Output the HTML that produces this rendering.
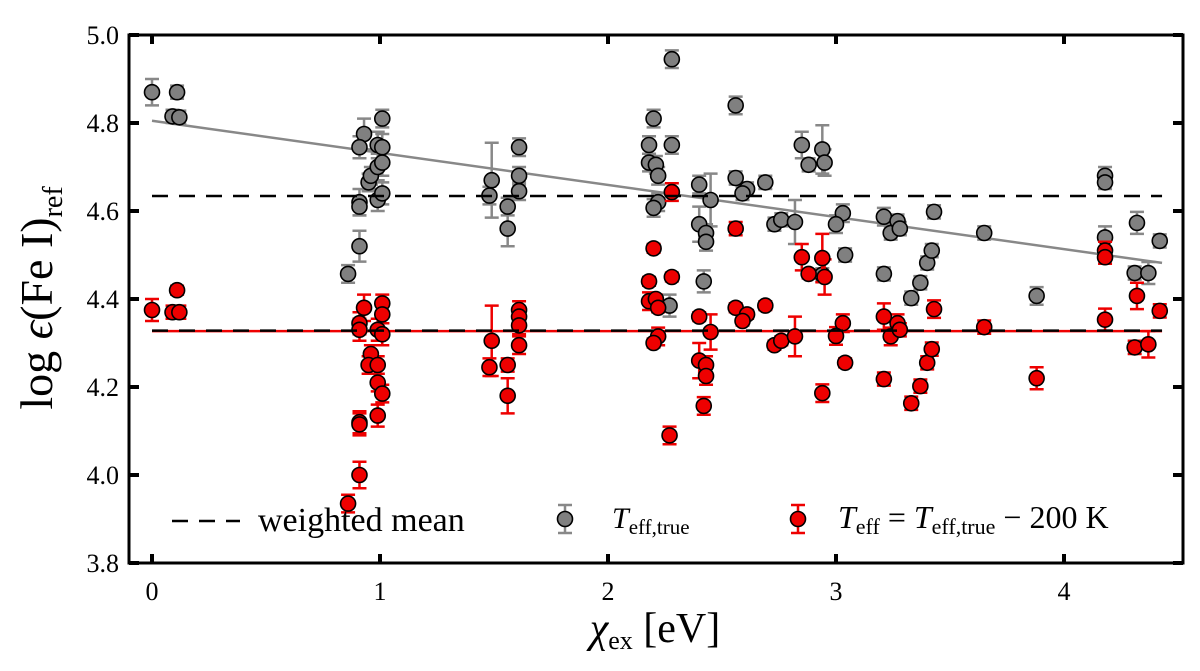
<!DOCTYPE html>
<html><head><meta charset="utf-8"><style>
body{margin:0;background:#fff}
svg{display:block}
text{font-family:"Liberation Serif",serif;fill:#000}
</style></head><body>
<svg id="chart" width="1200" height="671" viewBox="0 0 1200 671" xmlns="http://www.w3.org/2000/svg"></svg>
<script>
const xTicks=[0,1,2,3,4];
const yTicks=[3.8,4.0,4.2,4.4,4.6,4.8,5.0];
const yTickLabels=["3.8","4.0","4.2","4.4","4.6","4.8","5.0"];
const grayX=[0,0.11,0.09,0.12,0.86,0.91,0.91,0.91,0.93,0.91,0.95,0.96,0.99,1.01,0.99,1.01,1.01,0.99,1.01,1.49,1.48,1.56,1.56,1.61,1.61,1.61,2.28,2.20,2.18,2.28,2.18,2.21,2.22,2.22,2.20,2.40,2.45,2.40,2.43,2.43,2.42,2.27,2.56,2.56,2.61,2.59,2.69,2.73,2.76,2.82,2.85,2.88,2.94,2.95,3.03,3.00,3.04,2.94,3.21,3.24,3.27,3.28,3.21,3.33,3.37,3.40,3.42,3.43,3.65,3.88,4.18,4.18,4.18,4.32,4.31,4.37,4.42];
const grayY=[4.87,4.87,4.815,4.813,4.457,4.52,4.62,4.61,4.775,4.745,4.665,4.68,4.70,4.71,4.75,4.745,4.81,4.625,4.64,4.67,4.635,4.61,4.56,4.745,4.68,4.645,4.945,4.81,4.75,4.75,4.71,4.705,4.68,4.62,4.607,4.66,4.625,4.57,4.55,4.53,4.44,4.385,4.84,4.675,4.65,4.64,4.665,4.57,4.58,4.575,4.75,4.705,4.74,4.71,4.595,4.57,4.50,4.455,4.587,4.55,4.577,4.56,4.457,4.402,4.437,4.482,4.51,4.598,4.55,4.407,4.68,4.665,4.54,4.573,4.459,4.459,4.532];
const grayErr=[0.03,0.015,0.015,0.015,0.02,0.035,0.03,0.02,0.035,0.025,0.02,0.02,0.03,0.03,0.03,0.03,0.02,0.025,0.025,0.085,0.02,0.02,0.04,0.02,0.02,0.02,0.02,0.02,0.02,0.02,0.02,0.02,0.02,0.02,0.02,0.02,0.06,0.04,0.02,0.02,0.025,0.025,0.02,0.015,0.015,0.015,0.015,0.015,0.015,0.05,0.03,0.015,0.055,0.03,0.02,0.02,0.015,0.015,0.02,0.015,0.015,0.015,0.015,0.015,0.015,0.015,0.015,0.015,0.015,0.02,0.02,0.015,0.025,0.025,0.015,0.025,0.015];
const redX=[0,0.11,0.09,0.12,0.93,0.91,0.91,1.01,1.01,0.99,1.01,0.96,0.95,0.99,0.99,1.01,0.99,0.91,0.91,0.91,0.86,1.49,1.48,1.56,1.56,1.61,1.61,1.61,1.61,2.28,2.20,2.28,2.18,2.18,2.21,2.22,2.22,2.20,2.27,2.40,2.45,2.40,2.43,2.43,2.42,2.56,2.56,2.61,2.59,2.69,2.73,2.76,2.82,2.85,2.88,2.94,2.95,2.94,3.03,3.00,3.04,3.21,3.24,3.27,3.28,3.21,3.33,3.37,3.40,3.42,3.43,3.65,3.88,4.18,4.18,4.18,4.32,4.31,4.37,4.42];
const redY=[4.375,4.42,4.37,4.37,4.38,4.345,4.33,4.39,4.365,4.33,4.32,4.275,4.25,4.25,4.21,4.185,4.135,4.12,4.115,4.00,3.935,4.305,4.245,4.25,4.18,4.375,4.36,4.34,4.295,4.643,4.515,4.45,4.44,4.395,4.40,4.38,4.315,4.30,4.09,4.36,4.325,4.26,4.25,4.225,4.157,4.56,4.38,4.365,4.35,4.385,4.295,4.305,4.315,4.495,4.457,4.493,4.45,4.186,4.345,4.316,4.255,4.36,4.315,4.345,4.33,4.218,4.163,4.202,4.255,4.286,4.377,4.336,4.22,4.51,4.495,4.353,4.407,4.29,4.297,4.373];
const redErr=[0.025,0.01,0.015,0.015,0.03,0.025,0.025,0.02,0.02,0.025,0.025,0.02,0.02,0.02,0.02,0.02,0.025,0.025,0.025,0.03,0.02,0.08,0.02,0.015,0.04,0.02,0.02,0.02,0.02,0.02,0.01,0.01,0.01,0.02,0.01,0.01,0.02,0.01,0.02,0.01,0.04,0.04,0.02,0.02,0.02,0.015,0.01,0.01,0.01,0.01,0.01,0.01,0.045,0.03,0.01,0.055,0.04,0.02,0.02,0.02,0.01,0.03,0.02,0.02,0.015,0.015,0.015,0.015,0.015,0.015,0.02,0.015,0.025,0.02,0.015,0.025,0.03,0.015,0.03,0.015];
const grayFit=[[0,4.805],[4.43,4.482]];
const redFit=[[0,4.327],[4.43,4.327]];
const meanGray=4.634, meanRed=4.328;

const L=129,R=1183,T=35,B=563;
const sx=v=>152+v*228;
const sy=v=>35+(5.0-v)*440;
const NS="http://www.w3.org/2000/svg";
const svg=document.getElementById('chart');
function mk(tag,attrs,parent){const e=document.createElementNS(NS,tag);for(const k in attrs)e.setAttribute(k,attrs[k]);(parent||svg).appendChild(e);return e;}

let g=mk('line',{x1:sx(grayFit[0][0]),y1:sy(grayFit[0][1]),x2:sx(grayFit[1][0]),y2:sy(grayFit[1][1]),stroke:'#888',"stroke-width":2.5});


let rf=mk('line',{x1:sx(redFit[0][0]),y1:sy(redFit[0][1]),x2:sx(redFit[1][0]),y2:sy(redFit[1][1]),stroke:'#e00',"stroke-width":2.5});



function series(xs,ys,es,fill,ecol,name){
  const grp=mk('g',{});
  
  
  for(let i=0;i<xs.length;i++){
    const cx=sx(xs[i]),cy=sy(ys[i]),e1=sy(ys[i]+es[i]),e2=sy(ys[i]-es[i]);
    const eb=mk('path',{d:`M${cx},${e1}V${e2}M${cx-7},${e1}H${cx+7}M${cx-7},${e2}H${cx+7}`,stroke:ecol,"stroke-width":2.5,fill:'none'},grp);
    
    
  }
  for(let i=0;i<xs.length;i++){
    const c=mk('circle',{cx:sx(xs[i]),cy:sy(ys[i]),r:7.5,fill:fill,stroke:'#000',"stroke-width":1.6},grp);
    
    
  }
}
series(grayX,grayY,grayErr,'#808080','#888','gray');
series(redX,redY,redErr,'#ee0000','#e00','red');

let m1=mk('line',{x1:sx(0),y1:sy(meanGray),x2:sx(4.43),y2:sy(meanGray),stroke:'#000',"stroke-width":2.5,"stroke-dasharray":"16,11"});


let m2=mk('line',{x1:sx(0),y1:sy(meanRed),x2:sx(4.43),y2:sy(meanRed),stroke:'#000',"stroke-width":2.5,"stroke-dasharray":"16,11"});



let fr=mk('rect',{x:L,y:T,width:R-L,height:B-T,fill:'none',stroke:'#000',"stroke-width":3});


xTicks.forEach(v=>{
  const x=sx(v);
  mk('line',{x1:x,y1:B,x2:x,y2:B-9,stroke:'#000',"stroke-width":4});
  mk('line',{x1:x,y1:T,x2:x,y2:T+9,stroke:'#000',"stroke-width":4});
  const t=mk('text',{x:x,y:B+37,"text-anchor":"middle","font-size":26});
  t.textContent=String(v);
  
  
});
yTicks.forEach((v,i)=>{
  const y=sy(v);
  mk('line',{x1:L,y1:y,x2:L+10,y2:y,stroke:'#000',"stroke-width":4});
  mk('line',{x1:R,y1:y,x2:R-10,y2:y,stroke:'#000',"stroke-width":4});
  const t=mk('text',{x:119,y:y+9,"text-anchor":"end","font-size":26});
  t.textContent=yTickLabels[i];
  
  
});
</script>
<svg style="position:absolute;left:0;top:0" width="1200" height="671">
<text x="655" y="642" text-anchor="middle" font-size="42" style="font-family:'Liberation Serif',serif"><tspan font-style="italic">χ</tspan><tspan font-size="26" dy="7">ex</tspan><tspan dy="-7"> [eV]</tspan></text>
<text transform="translate(52,298) rotate(-90)" text-anchor="middle" font-size="46" style="font-family:'Liberation Serif',serif">log <tspan font-style="italic">ϵ</tspan>(Fe I)<tspan font-size="28" dy="10">ref</tspan></text>
<g style="font-family:'Liberation Serif',serif">
<line x1="172" y1="521" x2="240" y2="521" stroke="#000" stroke-width="2.5" stroke-dasharray="16,11"/>
<text x="258" y="531" font-size="34">weighted mean</text>
<path d="M565,505V533M558,505H572M558,533H572" stroke="#888" stroke-width="2.5"/>
<circle cx="565" cy="519" r="7.5" fill="#808080" stroke="#000" stroke-width="1.6"/>
<text x="612" y="528" font-size="30"><tspan font-style="italic">T</tspan><tspan font-size="21" dy="6">eff,true</tspan></text>
<path d="M798,505V533M791,505H805M791,533H805" stroke="#e00" stroke-width="2.5"/>
<circle cx="798" cy="519" r="7.5" fill="#ee0000" stroke="#000" stroke-width="1.6"/>
<text x="838" y="528" font-size="32"><tspan font-style="italic">T</tspan><tspan font-size="22" dy="6">eff</tspan><tspan dy="-6"> = </tspan><tspan font-style="italic">T</tspan><tspan font-size="22" dy="6">eff,true</tspan><tspan dy="-6"> − 200 K</tspan></text>
</g>
</svg>
</body></html>
